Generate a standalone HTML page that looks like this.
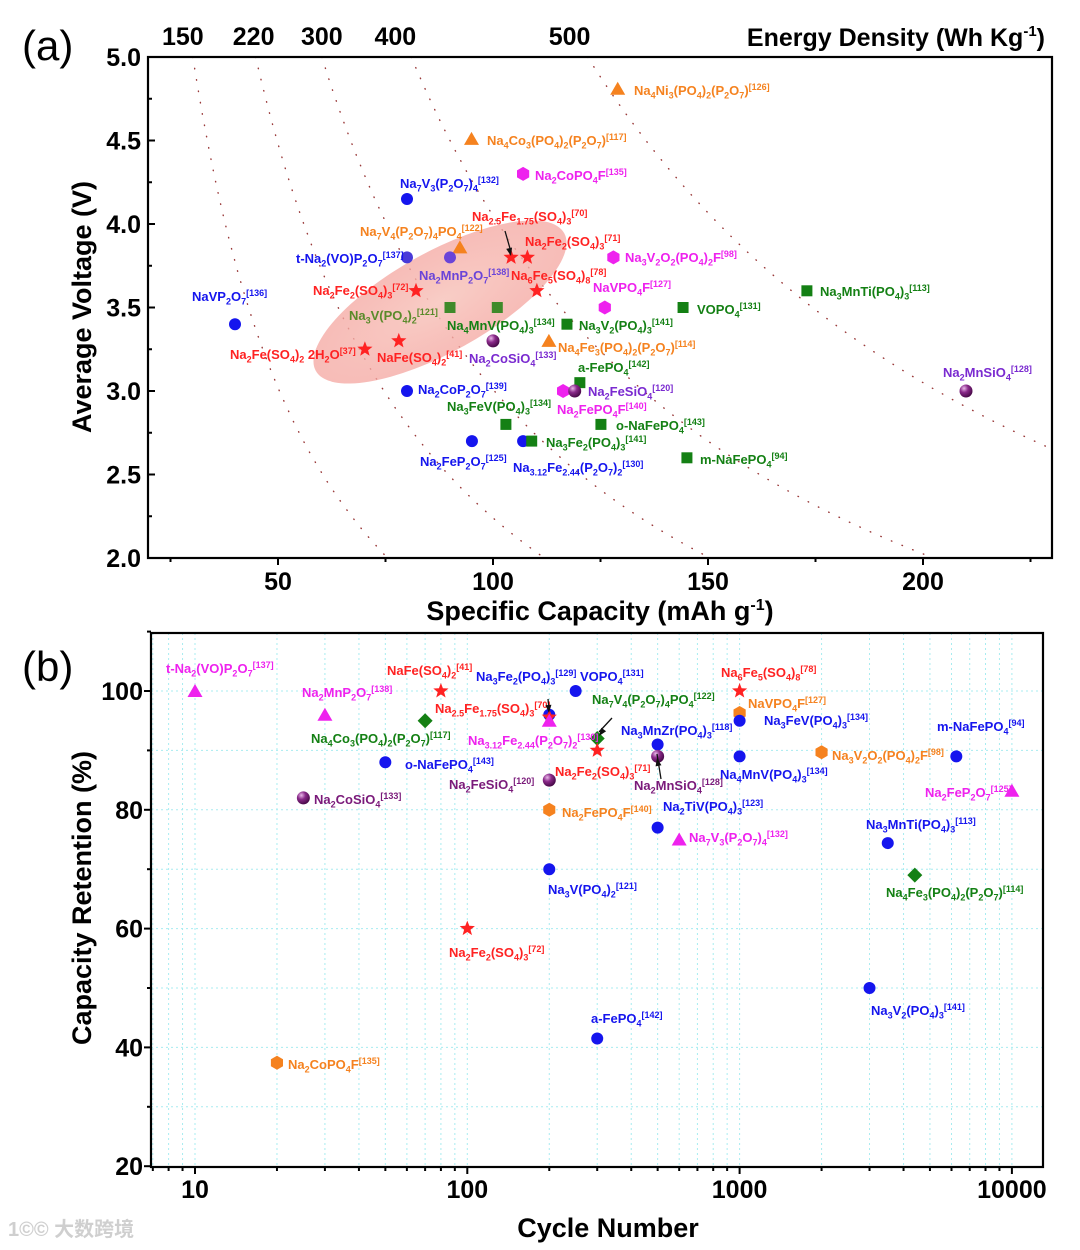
<!DOCTYPE html>
<html><head><meta charset="utf-8">
<style>
html,body{margin:0;padding:0;background:#fff;}
svg{display:block;font-family:"Liberation Sans",Arial,sans-serif;}
.lbl{font-size:13px;font-weight:bold;}
.tick{font-size:25px;font-weight:bold;}
.axt{font-size:27px;font-weight:bold;}
</style></head>
<body>
<svg id="chart" width="1080" height="1250" viewBox="0 0 1080 1250" xmlns="http://www.w3.org/2000/svg">
<defs>
<radialGradient id="sph" cx="0.35" cy="0.3" r="0.7"><stop offset="0" stop-color="#e9b8e9"/><stop offset="0.45" stop-color="#8a2a8a"/><stop offset="1" stop-color="#4a0a4a"/></radialGradient>
<radialGradient id="ell" cx="0.5" cy="0.5" r="0.5"><stop offset="0" stop-color="#f8c8c0" stop-opacity="0.9"/><stop offset="1" stop-color="#f4a6a0" stop-opacity="0.75"/></radialGradient>
</defs>
<g id="pa"></g>
<g id="pb"></g>
<text x="8" y="1236" font-size="20" fill="#cfcfcf" font-weight="bold" font-family="'Liberation Sans','Noto Sans CJK SC',sans-serif">1©© 大数跨境</text>
</svg>
<script>
// ---------- Panel (a) data ----------
const aNames=["Na4Ni3","Na4Co3","Na2CoPO4F","Na7V3","Na7V4","tNa2VOP2O7","Na2MnP2O7","Na25Fe175","Na2Fe2SO4_71","Na3V2O2F","Na2Fe2SO4_72","Na6Fe5","Na3MnTi","NaVP2O7","Na3VPO4_a","Na3VPO4_b","NaVPO4F","VOPO4","Na4MnV","NaFeSO4","Na2FeSO4H2O","Na2CoSiO4","Na4Fe3","aFePO4","Na2CoP2O7","Na2FePO4F","Na2FeSiO4","Na2MnSiO4","Na3FeV","oNaFePO4","Na2FeP2O7","Na312Fe244","Na3Fe2PO4","mNaFePO4"];
const aCapacity=[129,95,107,80,92.3,80,90,104.2,108,128,82.1,110.2,173,40,90,101,126,144.2,117.2,78.1,70.2,100,113,120.2,80,116.3,119,210,103,125.1,95.1,107,109,145.1];
const aVoltage=[4.81,4.51,4.30,4.15,3.86,3.80,3.80,3.80,3.80,3.80,3.60,3.60,3.60,3.40,3.50,3.50,3.50,3.50,3.40,3.30,3.25,3.30,3.30,3.05,3.00,3.00,3.00,3.00,2.80,2.80,2.70,2.70,2.70,2.60];
const aShape=["tri","tri","hex","circ","tri","circ","circ","star","star","hex","star","star","sq","circ","sq","sq","hex","sq","sq","star","star","sph","tri","sq","circ","hex","sph","sph","sq","sq","circ","circ","sq","sq"];
const aColor=["#f5821f","#f5821f","#ee22ee","#1515ee","#f5821f","#4a3ad8","#6a44d8","#ff2222","#ff2222","#ee22ee","#ff2222","#ff2222","#148014","#1515ee","#3f8a2a","#3f8a2a","#ee22ee","#148014","#148014","#ff2222","#ff2222","","#f5821f","#148014","#1515ee","#ee22ee","","","#148014","#148014","#1515ee","#1515ee","#148014","#148014"];
const aEnergy=[151,224,301,405,610];
const aEnergyLabels=["150","220","300","400","500"];
const aEnergyLabelShift=[-10,-2,0,-16,-18];
const aXTicks=[50,100,150,200];
const aYTicks=[2.0,2.5,3.0,3.5,4.0,4.5,5.0];
const aLabels=[
["Na_4Ni_3(PO_4)_2(P_2O_7)^{[126]}","#f5821f",634,95],["Na_4Co_3(PO_4)_2(P_2O_7)^{[117]}","#f5821f",487,145],
["Na_2CoPO_4F^{[135]}","#ee22ee",535,180],["Na_7V_3(P_2O_7)_4^{[132]}","#1515ee",400,188],
["Na_{2.5}Fe_{1.75}(SO_4)_3^{[70]}","#ff2222",472,221],["Na_7V_4(P_2O_7)_4PO_4^{[122]}","#f5821f",360,236],
["Na_2Fe_2(SO_4)_3^{[71]}","#ff2222",525,246],["t-Na_2(VO)P_2O_7^{[137]}","#1515ee",296,263],
["Na_3V_2O_2(PO_4)_2F^{[98]}","#ee22ee",625,262],["Na_2MnP_2O_7^{[138]}","#6a44d8",419,280],
["Na_6Fe_5(SO_4)_8^{[78]}","#ff2222",511,280],["NaVP_2O_7^{[136]}","#1515ee",192,301],
["Na_2Fe_2(SO_4)_3^{[72]}","#ff2222",313,295],["NaVPO_4F^{[127]}","#ee22ee",593,292],
["Na_3MnTi(PO_4)_3^{[113]}","#148014",820,296],["Na_3V(PO_4)_2^{[121]}","#5a8a2a",349,320],
["VOPO_4^{[131]}","#148014",697,314],["Na_4MnV(PO_4)_3^{[134]}","#148014",447,330],
["Na_3V_2(PO_4)_3^{[141]}","#148014",579,330],["Na_4Fe_3(PO_4)_2(P_2O_7)^{[114]}","#f5821f",558,352],
["Na_2Fe(SO_4)_2 2H_2O^{[37]}","#ff2222",230,359],["NaFe(SO_4)_2^{[41]}","#ff2222",377,362],
["Na_2CoSiO_4^{[133]}","#7a2ad0",469,363],["a-FePO_4^{[142]}","#148014",578,372],
["Na_2MnSiO_4^{[128]}","#7a2ad0",943,377],["Na_2CoP_2O_7^{[139]}","#1515ee",418,394],
["Na_2FeSiO_4^{[120]}","#7a2ad0",588,396],["Na_3FeV(PO_4)_3^{[134]}","#148014",447,411],
["Na_2FePO_4F^{[140]}","#ee22ee",557,414],["o-NaFePO_4^{[143]}","#148014",616,430],
["Na_3Fe_2(PO_4)_3^{[141]}","#148014",546,447],["m-NaFePO_4^{[94]}","#148014",700,464],
["Na_2FeP_2O_7^{[125]}","#1515ee",420,466],["Na_{3.12}Fe_{2.44}(P_2O_7)_2^{[130]}","#1515ee",513,472]];

// ---------- Panel (b) data ----------
const bNames=["tNa2VOP2O7","Na2MnP2O7","Na4Co3","NaFeSO4","oNaFePO4","Na2CoSiO4","Na3Fe2PO4","Na25Fe175","Na312Fe244","VOPO4","Na7V4","Na2Fe2SO4_71","Na2FeSiO4","Na2FePO4F","Na3VPO4","Na2Fe2SO4_72","Na3MnZr","Na2MnSiO4","Na2TiV","Na7V3","aFePO4","Na6Fe5","NaVPO4F","Na3FeV","Na4MnV","Na3V2O2F","mNaFePO4","Na2FeP2O7","Na3MnTi","Na4Fe3","Na3V2PO4","Na2CoPO4F"];
const bCycles=[10,30,70,80,50,25,200,200,200,250,300,300,200,200,200,100,500,500,500,600,300,1000,1000,1000,1000,2000,6250,10000,3500,4400,3000,20];
const bRetention=[100,96,95,100,88,82,96,95.6,95,100,92,90,85,80,70,60,91,89,77,75,41.5,100,96.3,95,89,89.7,89,83.2,74.4,69,50,37.4];
const bShape=["tri","tri","dia","star","circ","sph","circ","star","tri","circ","dia","star","sph","hex","circ","star","circ","sph","circ","tri","circ","star","hex","circ","circ","hex","circ","tri","circ","dia","circ","hex"];
const bColor=["#ee22ee","#ee22ee","#148014","#ff2222","#1515ee","","#1515ee","#ff2222","#ee22ee","#1515ee","#148014","#ff2222","","#f5821f","#1515ee","#ff2222","#1515ee","","#1515ee","#ee22ee","#1515ee","#ff2222","#f5821f","#1515ee","#1515ee","#f5821f","#1515ee","#ee22ee","#1515ee","#148014","#1515ee","#f5821f"];
const bXTicks=[10,100,1000,10000];
const bXTickLabels=["10","100","1000","10000"];
const bYTicks=[20,40,60,80,100];
const bLabels=[
["t-Na_2(VO)P_2O_7^{[137]}","#ee22ee",166,673],["Na_2MnP_2O_7^{[138]}","#ee22ee",302,697],
["NaFe(SO_4)_2^{[41]}","#ff2222",387,675],["Na_3Fe_2(PO_4)_3^{[129]}","#1515ee",476,681],
["VOPO_4^{[131]}","#1515ee",580,681],["Na_{2.5}Fe_{1.75}(SO_4)_3^{[70]}","#ff2222",435,713],
["Na_7V_4(P_2O_7)_4PO_4^{[122]}","#148014",592,704],["Na_6Fe_5(SO_4)_8^{[78]}","#ff2222",721,677],
["NaVPO_4F^{[127]}","#f5821f",748,708],["Na_3FeV(PO_4)_3^{[134]}","#1515ee",764,725],
["m-NaFePO_4^{[94]}","#1515ee",937,731],["Na_4Co_3(PO_4)_2(P_2O_7)^{[117]}","#148014",311,743],
["Na_{3.12}Fe_{2.44}(P_2O_7)_2^{[130]}","#ee22ee",468,745],["Na_3MnZr(PO_4)_3^{[118]}","#1515ee",621,735],
["o-NaFePO_4^{[143]}","#1515ee",405,769],["Na_3V_2O_2(PO_4)_2F^{[98]}","#f5821f",832,760],
["Na_2Fe_2(SO_4)_3^{[71]}","#ff2222",555,776],["Na_4MnV(PO_4)_3^{[134]}","#1515ee",720,779],
["Na_2FeSiO_4^{[120]}","#7a1a7a",449,789],["Na_2MnSiO_4^{[128]}","#7a1a7a",634,790],
["Na_2FeP_2O_7^{[125]}","#ee22ee",925,797],["Na_2CoSiO_4^{[133]}","#7a1a7a",314,804],
["Na_2FePO_4F^{[140]}","#f5821f",562,817],["Na_2TiV(PO_4)_3^{[123]}","#1515ee",663,811],
["Na_3MnTi(PO_4)_3^{[113]}","#1515ee",866,829],["Na_7V_3(P_2O_7)_4^{[132]}","#ee22ee",689,842],
["Na_3V(PO_4)_2^{[121]}","#1515ee",548,894],["Na_4Fe_3(PO_4)_2(P_2O_7)^{[114]}","#148014",886,897],
["Na_2Fe_2(SO_4)_3^{[72]}","#ff2222",449,957],["Na_3V_2(PO_4)_3^{[141]}","#1515ee",871,1015],
["a-FePO_4^{[142]}","#1515ee",591,1023],["Na_2CoPO_4F^{[135]}","#f5821f",288,1069]];

const NS="http://www.w3.org/2000/svg";
function mk(parent,tag,attrs){const e=document.createElementNS(NS,tag);for(const k in attrs)e.setAttribute(k,attrs[k]);parent.appendChild(e);return e;}

const A={x0:148,x1:1052,y0:57,y1:558};
function axX(c){return 149+(c-20)*4.3;}
function axY(v){return 57+(5-v)*167;}
const B={x0:151,x1:1043,y0:633,y1:1167};
function bxX(n){return 195+Math.log10(n/10)*272.3;}
function bxY(r){return 691+(100-r)*5.94;}

function marker(g,shape,color,x,y){
  let e;
  if(shape==="circ"){e=mk(g,"circle",{cx:x,cy:y,r:6,fill:color});}
  else if(shape==="sph"){e=mk(g,"circle",{cx:x,cy:y,r:6.5,fill:"url(#sph)"});}
  else if(shape==="sq"){e=mk(g,"rect",{x:x-5.5,y:y-5.5,width:11,height:11,fill:color});}
  else if(shape==="tri"){e=mk(g,"polygon",{points:`${x},${y-7} ${x+7.5},${y+6} ${x-7.5},${y+6}`,fill:color});}
  else if(shape==="dia"){e=mk(g,"polygon",{points:`${x},${y-7.5} ${x+7.5},${y} ${x},${y+7.5} ${x-7.5},${y}`,fill:color});}
  else if(shape==="hex"){let p=[];for(let i=0;i<6;i++){const a=Math.PI/3*i+Math.PI/6;p.push((x+7*Math.cos(a)).toFixed(1)+","+(y+7*Math.sin(a)).toFixed(1));}e=mk(g,"polygon",{points:p.join(" "),fill:color});}
  else if(shape==="star"){let p=[];for(let i=0;i<10;i++){const r=i%2?3.4:8;const a=-Math.PI/2+Math.PI/5*i;p.push((x+r*Math.cos(a)).toFixed(1)+","+(y+r*Math.sin(a)).toFixed(1));}e=mk(g,"polygon",{points:p.join(" "),fill:color});}
  return e;
}
function richText(g,str,color,x,y){
  const t=mk(g,"text",{x:x,y:y,fill:color,class:"lbl"});
  let i=0,buf="";
  function flush(){if(buf){const s=mk(t,"tspan",{});s.textContent=buf;buf="";}}
  while(i<str.length){
    const ch=str[i];
    if(ch==="_"||ch==="^"){
      flush();let content;
      if(str[i+1]==="{"){const j=str.indexOf("}",i);content=str.slice(i+2,j);i=j+1;}else{content=str[i+1];i+=2;}
      const d=ch==="_"?3.5:-5;
      const s=mk(t,"tspan",{dy:d,"font-size":"9"});s.textContent=content;
      const r=mk(t,"tspan",{dy:-d});r.textContent="\u200b";
    } else {buf+=ch;i++;}
  }
  flush();
  return t;
}
function arrow(g,x1,y1,x2,y2){
  mk(g,"line",{x1:x1,y1:y1,x2:x2,y2:y2-4,stroke:"#111","stroke-width":1.3});
  const a=Math.atan2(y2-y1,x2-x1);
  const p=[[x2,y2],[x2-8*Math.cos(a)+3*Math.sin(a),y2-8*Math.sin(a)-3*Math.cos(a)],[x2-8*Math.cos(a)-3*Math.sin(a),y2-8*Math.sin(a)+3*Math.cos(a)]];
  mk(g,"polygon",{points:p.map(q=>q.join(",")).join(" "),fill:"#111"});
}

// ---------- panel a ----------
const pa=document.getElementById("pa");
let t=mk(pa,"text",{x:22,y:60,"font-size":"42"});t.textContent="(a)";


const isoG=mk(pa,"g",{});


aEnergy.forEach((E,k)=>{
  let pts=[];
  for(let v=5.0;v>=2.0;v-=0.02){const c=E/v;const x=axX(c);if(x>A.x1)break;pts.push(x.toFixed(1)+","+axY(v).toFixed(1));}
  const pl=mk(isoG,"polyline",{points:pts.join(" "),fill:"none",stroke:"#9a3a3a","stroke-width":1.4,"stroke-dasharray":"0.5 11","stroke-linecap":"round"});
  
  
  const tl=mk(pa,"text",{x:axX(E/5)+aEnergyLabelShift[k],y:45,"text-anchor":"middle",class:"tick"});
  tl.textContent=aEnergyLabels[k];
  
  
});
t=mk(pa,"text",{x:1045,y:46,"text-anchor":"end",class:"tick"});
t.innerHTML='Energy Density (Wh Kg<tspan dy="-10" font-size="15">-1</tspan><tspan dy="10">)</tspan>';


const el=mk(pa,"ellipse",{cx:440,cy:302,rx:142,ry:50,fill:"url(#ell)",transform:"rotate(-29 440 302)"});


const fa=mk(pa,"rect",{x:A.x0,y:A.y0,width:A.x1-A.x0,height:A.y1-A.y0,fill:"none",stroke:"#000","stroke-width":2.2});


for(let c=25;c<=225;c+=25){const x=axX(c);mk(pa,"line",{x1:x,y1:A.y1,x2:x,y2:A.y1+(c%50===0?7:4),stroke:"#000","stroke-width":2});}
aXTicks.forEach(c=>{const tt=mk(pa,"text",{x:axX(c),y:590,"text-anchor":"middle",class:"tick"});tt.textContent=String(c);

});
for(let v=2.0;v<=5.001;v+=0.25){const y=axY(v);mk(pa,"line",{x1:A.x0,y1:y,x2:A.x0+(Math.abs(v*2-Math.round(v*2))<0.01?7:4),y2:y,stroke:"#000","stroke-width":2});}
aYTicks.forEach(v=>{const tt=mk(pa,"text",{x:141,y:axY(v)+9,"text-anchor":"end",class:"tick"});tt.textContent=v.toFixed(1);

});
t=mk(pa,"text",{x:600,y:620,"text-anchor":"middle",class:"axt"});
t.innerHTML='Specific Capacity (mAh g<tspan dy="-10" font-size="16">-1</tspan><tspan dy="10">)</tspan>';


t=mk(pa,"text",{x:0,y:0,"text-anchor":"middle",class:"axt",transform:"translate(91 307) rotate(-90)"});t.textContent="Average Voltage (V)";


const ma=mk(pa,"g",{});


aCapacity.forEach((c,i)=>{const m=marker(ma,aShape[i],aColor[i],axX(c),axY(aVoltage[i]));

});
const la=mk(pa,"g",{});


aLabels.forEach(l=>{const tx=richText(la,l[0],l[1],l[2],l[3]);

});
arrow(pa,505,231,511,256);

// ---------- panel b ----------
const pb=document.getElementById("pb");
t=mk(pb,"text",{x:22,y:681,"font-size":"42"});t.textContent="(b)";


const gg=mk(pb,"g",{});


for(let d=1;d<=10000;d*=10){for(let m=1;m<10;m++){const n=d*m;const x=bxX(n);if(x<=B.x0+1||x>=B.x1-1)continue;mk(gg,"line",{x1:x,y1:B.y0,x2:x,y2:B.y1,stroke:"#a8ecf0","stroke-width":1,"stroke-dasharray":"2 3"});}}
for(let r=30;r<=110;r+=10){const y=bxY(r);if(y<=B.y0+1)continue;mk(gg,"line",{x1:B.x0,y1:y,x2:B.x1,y2:y,stroke:"#a8ecf0","stroke-width":1,"stroke-dasharray":"2 3"});}
const fb=mk(pb,"rect",{x:B.x0,y:B.y0,width:B.x1-B.x0,height:B.y1-B.y0,fill:"none",stroke:"#000","stroke-width":2.2});


for(let d=1;d<=10000;d*=10){for(let m=1;m<10;m++){const n=d*m;const x=bxX(n);if(x<B.x0||x>B.x1)continue;mk(pb,"line",{x1:x,y1:B.y1,x2:x,y2:B.y1+(m===1?7:4),stroke:"#000","stroke-width":2});}}
bXTicks.forEach((n,k)=>{const tt=mk(pb,"text",{x:bxX(n),y:1198,"text-anchor":"middle",class:"tick"});tt.textContent=bXTickLabels[k];

});
for(let r=20;r<=110;r+=10){const y=bxY(r);mk(pb,"line",{x1:B.x0,y1:y,x2:B.x0-(r%20===0?7:4),y2:y,stroke:"#000","stroke-width":2});}
bYTicks.forEach(r=>{const tt=mk(pb,"text",{x:143,y:bxY(r)+9,"text-anchor":"end",class:"tick"});tt.textContent=String(r);

});
t=mk(pb,"text",{x:608,y:1237,"text-anchor":"middle",class:"axt"});t.textContent="Cycle Number";


t=mk(pb,"text",{x:0,y:0,"text-anchor":"middle",class:"axt",transform:"translate(91 898) rotate(-90)"});t.textContent="Capacity Retention (%)";


const mb=mk(pb,"g",{});


bCycles.forEach((n,i)=>{const m=marker(mb,bShape[i],bColor[i],bxX(n),bxY(bRetention[i]));

});
const lb=mk(pb,"g",{});


bLabels.forEach(l=>{const tx=richText(lb,l[0],l[1],l[2],l[3]);

});
arrow(pb,548,699,549,713);
arrow(pb,612,718,599,736);
arrow(pb,661,779,657,758);
</script>
</body></html>
